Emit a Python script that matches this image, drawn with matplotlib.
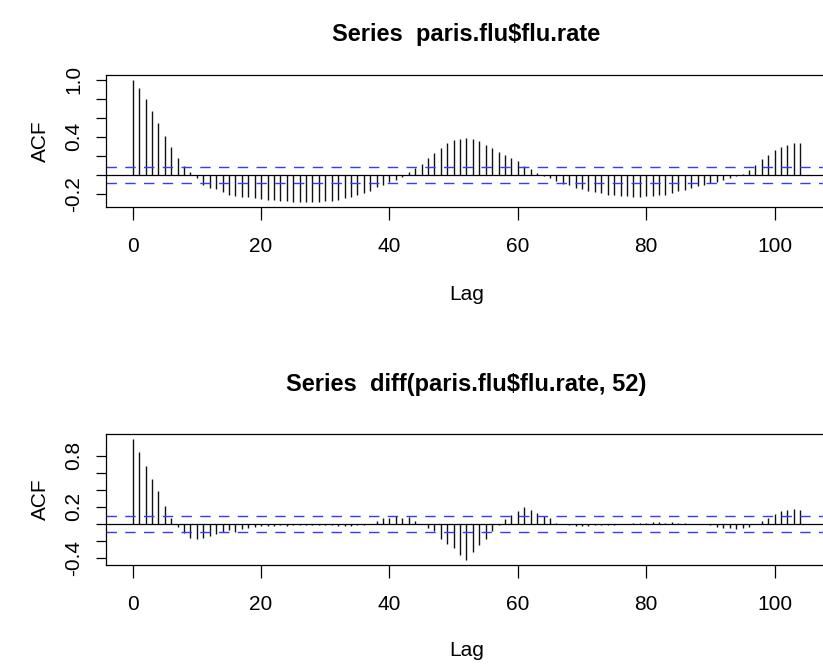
import matplotlib
matplotlib.use("Agg")
import matplotlib.pyplot as plt
import numpy as np

# ---- data ----
lags = list(range(0, 105))
acf_flu = [1.0, 0.912, 0.796, 0.677, 0.551, 0.41, 0.291, 0.179, 0.088, 0.025,
           -0.035, -0.105, -0.14, -0.15, -0.185, -0.21, -0.22, -0.228, -0.237, -0.246,
           -0.256, -0.264, -0.27, -0.276, -0.28, -0.284, -0.287, -0.287, -0.286, -0.284,
           -0.28, -0.273, -0.262, -0.248, -0.232, -0.212, -0.19, -0.167, -0.133, -0.103,
           -0.076, -0.05, -0.025, 0.03, 0.075, 0.118, 0.18, 0.23, 0.282, 0.336,
           0.371, 0.382, 0.383, 0.38, 0.357, 0.318, 0.282, 0.24, 0.21, 0.178,
           0.142, 0.088, 0.058, 0.018, -0.012, -0.035, -0.067, -0.092, -0.11, -0.137,
           -0.15, -0.165, -0.18, -0.196, -0.207, -0.214, -0.22, -0.225, -0.228, -0.228,
           -0.227, -0.224, -0.216, -0.207, -0.19, -0.175, -0.158, -0.14, -0.122, -0.105,
           -0.087, -0.07, -0.05, -0.03, -0.012, 0.01, 0.05, 0.1, 0.17, 0.21,
           0.265, 0.295, 0.318, 0.335, 0.335]
acf_diff = [1.0, 0.844, 0.676, 0.532, 0.384, 0.217, 0.073, -0.04, -0.11, -0.16,
            -0.172, -0.16, -0.14, -0.115, -0.1, -0.075, -0.09, -0.055, -0.045, -0.033,
            -0.028, -0.025, -0.02, -0.015, -0.02, -0.012, -0.015, -0.01, -0.012, -0.015,
            -0.01, -0.015, -0.02, -0.018, -0.02, -0.015, -0.01, 0.0, 0.03, 0.065,
            0.065, 0.09, 0.07, 0.08, 0.04, 0.0, -0.045, -0.08, -0.18, -0.24,
            -0.286, -0.368, -0.425, -0.325, -0.247, -0.18, -0.08, -0.013, 0.053, 0.104,
            0.158, 0.197, 0.17, 0.13, 0.092, 0.072, 0.014, 0.0, -0.013, -0.025,
            -0.02, -0.018, -0.015, -0.012, -0.01, -0.008, -0.005, 0.0, 0.01, 0.012,
            0.015, 0.018, 0.02, 0.015, 0.018, 0.012, 0.01, 0.005, 0.0, -0.005,
            -0.012, -0.03, -0.045, -0.05, -0.055, -0.05, -0.035, 0.0, 0.03, 0.07,
            0.12, 0.15, 0.17, 0.18, 0.17]
ci_flu = 0.084
ci_diff = 0.094
titles = ["Series  paris.flu$flu.rate", "Series  diff(paris.flu$flu.rate, 52)"]
xticks = [0, 20, 40, 60, 80, 100]
yticks_flu = [-0.2, 0.0, 0.2, 0.4, 0.6, 0.8, 1.0]
ylabels_flu = ["-0.2", "", "", "0.4", "", "", "1.0"]
yticks_diff = [-0.4, -0.2, 0.0, 0.2, 0.4, 0.6, 0.8]
ylabels_diff = ["-0.4", "", "", "0.2", "", "", "0.8"]

FONT = ["Liberation Sans", "DejaVu Sans"]
plt.rcParams["font.family"] = FONT

W, H = 823, 665
fig = plt.figure(figsize=(W / 100, H / 100), dpi=100)

L, R = 106, 827
panels = [
    dict(top=75, bottom=207, acf=acf_flu, ci=ci_flu, title=titles[0],
         yt=yticks_flu, yl=ylabels_flu, title_y=35, lab_y=295),
    dict(top=434, bottom=565, acf=acf_diff, ci=ci_diff, title=titles[1],
         yt=yticks_diff, yl=ylabels_diff, title_y=385, lab_y=650),
]

for p in panels:
    ax = fig.add_axes([L / W, 1 - p["bottom"] / H, (R - L) / W, (p["bottom"] - p["top"]) / H])
    vals = np.array(p["acf"])
    ax.vlines(lags, 0, vals, color="#111111", lw=1.0)
    ax.axhline(0, color="black", lw=0.9)
    for c in (p["ci"], -p["ci"]):
        ax.axhline(c, color="#3a3aff", lw=1.0, linestyle=(0, (7.5, 6)))
    xr = max(lags) - min(lags)
    ax.set_xlim(min(lags) - 0.04 * xr, max(lags) + 0.04 * xr)
    lo, hi = vals.min(), max(vals.max(), 1.0)
    yr = hi - lo
    ax.set_ylim(lo - 0.04 * yr, hi + 0.04 * yr)
    ax.set_xticks(xticks)
    ax.set_xticklabels([str(t) for t in xticks])
    ax.set_yticks(p["yt"])
    ax.set_yticklabels(p["yl"], rotation=90, va="center")
    ax.tick_params(axis="x", direction="out", length=9.5, width=0.9, pad=12, labelsize=15)
    ax.tick_params(axis="y", direction="out", length=7.5, width=0.9, pad=9, labelsize=15)
    for s in ax.spines.values():
        s.set_linewidth(0.9)
    cx = (L + R) / 2 / W
    fig.text(cx, 1 - p["title_y"] / H, p["title"], ha="center", va="center",
             fontsize=17, fontweight="bold")
    fig.text(cx, 1 - p["lab_y"] / H, "Lag", ha="center", va="center", fontsize=15)
    fig.text(40 / W, 1 - (p["top"] + p["bottom"]) / 2 / H, "ACF", ha="center", va="center",
             rotation=90, fontsize=15)

fig.savefig("out.png", dpi=100)
